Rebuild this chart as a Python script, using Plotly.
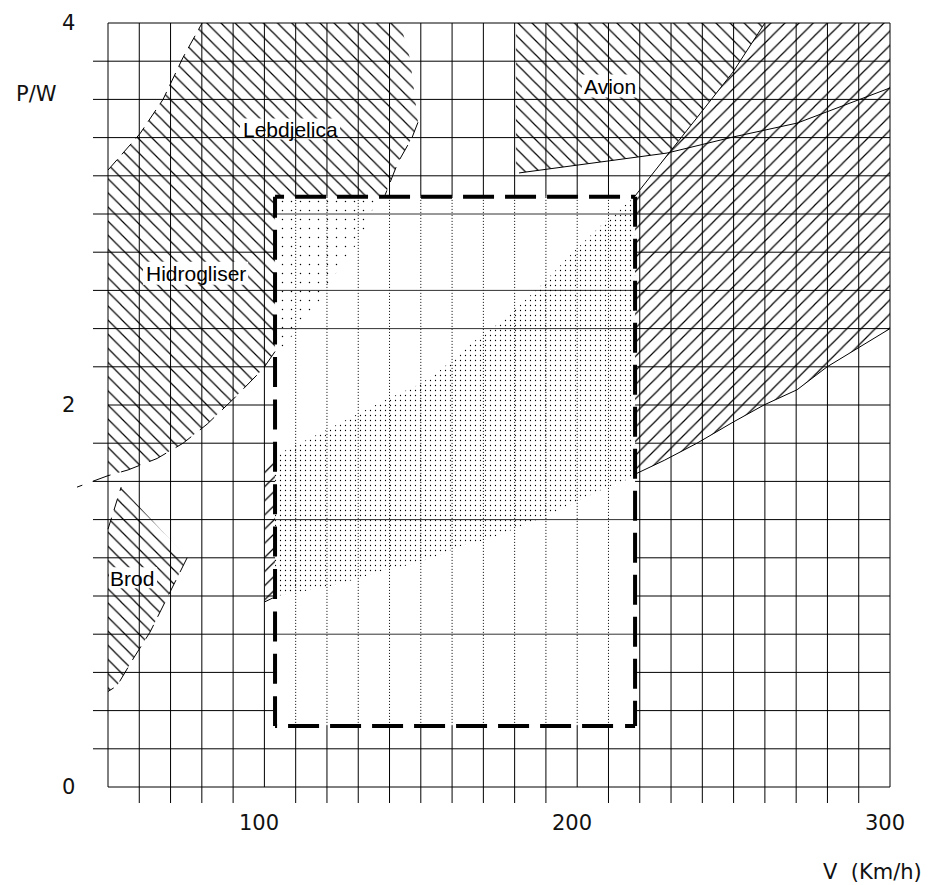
import numpy as np
import plotly.graph_objects as go

# ---------------- axis data ----------------
x_grid = list(range(50, 301, 10))                 # V (km/h) grid
y_grid = [round(v * 0.2, 1) for v in range(0, 21)]  # P/W grid
x_tick_labels = [100, 200, 300]
y_tick_labels = [0, 2, 4]

# ---------------- zones ----------------
# Lebdjelica / Hidrogliser zone
leb_upper_x = [50.0, 60.2, 67.6, 74.0, 80.1]
leb_upper_y = [3.23, 3.42, 3.60, 3.82, 4.00]
leb_right_x = [143.4, 146.6, 148.2, 149.1, 147.2, 142.7, 138.6, 137.0, 133.8, 130.6, 125.1, 120.0, 115.5, 110.4, 105.0, 103.4]
leb_right_y = [4.00, 3.81, 3.60, 3.48, 3.40, 3.27, 3.10, 3.09, 3.00, 2.86, 2.76, 2.60, 2.50, 2.39, 2.29, 2.28]
hid_lower_x = [103.4, 99.6, 90.0, 81.7, 74.0, 65.7, 56.4, 50.0, 40.1]
hid_lower_y = [2.28, 2.19, 2.03, 1.90, 1.80, 1.72, 1.66, 1.63, 1.57]

# Avion zone
avion_left_x = [180.4, 180.4, 181.4]
avion_left_y = [4.00, 3.215, 3.215]
avion_lower_x = [181.4, 228.7, 249.8, 270.3, 300.0]
avion_lower_y = [3.215, 3.319, 3.403, 3.476, 3.660]

# fast zone (right hatched band + dense stipple in the box)
jet_upper_x = [100.2, 104.0, 109.1, 120.0, 130.6, 139.2, 149.7, 156.1, 166.7, 177.6, 188.1, 198.7, 209.5, 217.8]
jet_upper_y = [1.71, 1.74, 1.78, 1.87, 1.96, 2.03, 2.11, 2.18, 2.33, 2.46, 2.62, 2.80, 2.97, 3.08]
jet_edge_x = [217.8, 230.0, 238.3, 249.8, 260.0]
jet_edge_y = [3.08, 3.335, 3.508, 3.743, 4.00]
jet_lower_x = [100.2, 104.0, 110.4, 117.8, 123.2, 129.6, 139.2, 145.6, 153.9, 162.5, 172.1, 182.7, 190.4,
               196.7, 203.1, 209.5, 217.8, 218.8, 227.8, 238.3, 249.8, 259.7, 270.3, 279.9, 289.8, 300.0]
jet_lower_y = [0.97, 1.00, 1.02, 1.04, 1.06, 1.09, 1.14, 1.16, 1.20, 1.26, 1.30, 1.37, 1.42,
               1.47, 1.52, 1.57, 1.62, 1.64, 1.71, 1.80, 1.91, 2.00, 2.08, 2.20, 2.30, 2.40]

# Brod zone
brod_x = [50.0, 54.2, 75.3, 69.2, 63.4, 58.0, 52.9, 50.0]
brod_y = [1.35, 1.57, 1.20, 1.00, 0.81, 0.67, 0.53, 0.50]

# dashed design box
box_x = [103.4, 218.5]
box_y = [0.32, 3.09]
inner_h_lines = [3.0, 2.6, 2.4, 1.4, 0.8]

# ---------------- layout geometry ----------------
PAGE_OFF = 8                      # default body margin of the page
W, H = 934 - PAGE_OFF, 885 - PAGE_OFF
PXX = 782 / 250.0   # px per km/h
PXY = 764 / 4.0     # px per P/W unit
X0PX, Y0PX = 108 - PAGE_OFF, 787 - PAGE_OFF   # position of (50, 0)
xr = [50 - X0PX / PXX, 50 + (W - X0PX) / PXX]
yr = [(Y0PX - H) / PXY, Y0PX / PXY]

fig = go.Figure()


def clip_rect(xs, ys, x0, x1, y0, y1):
    pts = list(zip(xs, ys))

    def clip(pts, inside, inter):
        out = []
        for i in range(len(pts)):
            cur, prev = pts[i], pts[i - 1]
            if inside(cur):
                if not inside(prev):
                    out.append(inter(prev, cur))
                out.append(cur)
            elif inside(prev):
                out.append(inter(prev, cur))
        return out

    def ix(xc):
        return lambda p, q: (xc, p[1] + (q[1] - p[1]) * (xc - p[0]) / (q[0] - p[0]))

    def iy(yc):
        return lambda p, q: (p[0] + (q[0] - p[0]) * (yc - p[1]) / (q[1] - p[1]), yc)

    pts = clip(pts, lambda p: p[0] >= x0, ix(x0))
    pts = clip(pts, lambda p: p[0] <= x1, ix(x1))
    pts = clip(pts, lambda p: p[1] >= y0, iy(y0))
    pts = clip(pts, lambda p: p[1] <= y1, iy(y1))
    return [p[0] for p in pts], [p[1] for p in pts]


def area(xs, ys, shape, size=10, solidity=0.12, bg="rgba(0,0,0,0)", solid=None):
    xs = list(xs) + [xs[0]]
    ys = list(ys) + [ys[0]]
    kw = dict(x=xs, y=ys, mode="lines", line=dict(width=0), fill="toself", hoverinfo="skip")
    if solid is not None:
        kw["fillcolor"] = solid
    else:
        kw["fillcolor"] = "rgba(0,0,0,0)"
        kw["fillpattern"] = dict(shape=shape, fgcolor="black", bgcolor=bg, size=size,
                                 solidity=solidity, fillmode="replace")
    fig.add_trace(go.Scatter(**kw))


def line(xs, ys, width=1, dash="solid", color="black"):
    fig.add_trace(go.Scatter(x=xs, y=ys, mode="lines", hoverinfo="skip",
                             line=dict(width=width, dash=dash, color=color)))


# polygons
leb_poly_x = leb_upper_x + leb_right_x + hid_lower_x[1:-1]
leb_poly_y = leb_upper_y + leb_right_y + hid_lower_y[1:-1]
avion_poly_x = avion_left_x + avion_lower_x + [300.0]
avion_poly_y = avion_left_y + avion_lower_y + [4.0]
jet_poly_x = jet_upper_x + jet_edge_x[1:] + [300.0] + jet_lower_x[::-1]
jet_poly_y = jet_upper_y + jet_edge_y[1:] + [4.0] + jet_lower_y[::-1]

# hatching
area(avion_poly_x, avion_poly_y, "\\")
area(jet_poly_x, jet_poly_y, "/", bg="white")
area(leb_poly_x, leb_poly_y, "\\")
area(brod_x, brod_y, "\\")

# label backgrounds (remove hatch under text)
labels = [
    ("Lebdjelica", 108.2, 3.445, (92.2, 124.2, 3.39, 3.50)),
    ("Hidrogliser", 78.1, 2.69, (61.2, 94.8, 2.63, 2.75)),
    ("Avion", 210.5, 3.665, (201.5, 219.8, 3.61, 3.73)),
    ("Brod", 57.7, 1.094, (50.3, 65.7, 1.04, 1.15)),
]
for _, _, _, (a, b, c, d) in labels:
    area([a, b, b, a], [c, c, d, d], None, solid="white")

# grid + ticks
gx, gy = [], []
for xv in x_grid:
    gx += [xv, xv, None]
    gy += [y_grid[0], y_grid[-1], None]
for yv in y_grid:
    gx += [x_grid[0], x_grid[-1], None]
    gy += [yv, yv, None]
tick_dx = 15 / PXX
tick_dy = 16 / PXY
for xv in x_grid[1:]:
    if xv not in x_tick_labels:
        gx += [xv, xv, None]
        gy += [0, -tick_dy, None]
for yv in y_grid[1:-1]:
    if yv not in y_tick_labels:
        gx += [x_grid[0] - tick_dx, x_grid[0], None]
        gy += [yv, yv, None]
line(gx, gy, width=1)

# box interior
bx0, bx1 = box_x
by0, by1 = box_y
area([bx0, bx1, bx1, bx0], [by0, by0, by1, by1], None, solid="white")

# inner grid
ix_, iy_ = [], []
for xv in x_grid:
    if bx0 < xv < bx1:
        ix_ += [xv, xv, None]
        iy_ += [by0, by1, None]
line(ix_, iy_, width=1, dash="1px,2px")
hx, hy = [], []
for yv in inner_h_lines:
    hx += [bx0, bx1, None]
    hy += [yv, yv, None]
line(hx, hy, width=1, color="#333")

# stipple inside the box
sx, sy = clip_rect(leb_poly_x, leb_poly_y, bx0, bx1, by0, by1)
area(sx, sy, ".", size=9, solidity=0.02)
sx, sy = clip_rect(jet_poly_x, jet_poly_y, bx0, bx1, by0, by1)
area(sx, sy, ".", size=5, solidity=0.05)

# zone boundaries
line(leb_upper_x, leb_upper_y, dash="14px,7px")
line(leb_right_x[3:7], leb_right_y[3:7], dash="16px,9px")
line(hid_lower_x, hid_lower_y, dash="19px,11px")
line(brod_x[:2], brod_y[:2], dash="12px,8px")
line(brod_x[2:], brod_y[2:], dash="16px,9px")
line(avion_lower_x, avion_lower_y)
line(jet_edge_x, jet_edge_y)
jl_x = [v for v in jet_lower_x if v >= bx1]
jl_y = [jet_lower_y[i] for i, v in enumerate(jet_lower_x) if v >= bx1]
line(jl_x, jl_y)
line(jet_lower_x[:2], jet_lower_y[:2])

# thick dashed box
top_dash = "9px,11px," + ",".join(["31px,11px"] * 9)
right_dash = ",".join(["30px,12px"] * 14)
bottom_dash = "10px,12px," + ",".join(["31px,11px"] * 9)
left_dash = "21px,12px," + ",".join(["30px,12.4px"] * 14)
line([bx0, bx1], [by1, by1], width=4, dash=top_dash)
line([bx1, bx1], [by1, by0], width=4, dash=right_dash)
line([bx1, bx0], [by0, by0], width=4, dash=bottom_dash)
line([bx0, bx0], [by1, by0], width=4, dash=left_dash)

# text
ann = []
tick_font = dict(family="DejaVu Sans", size=21, color="#111")
for v in x_tick_labels:
    ann.append(dict(x=v - 1.7, y=-0.191, text=str(v), font=tick_font))
for v in y_tick_labels:
    ann.append(dict(x=37.5, y=v, text=str(v), font=tick_font))
ann.append(dict(x=27.3, y=3.63, text="P/W", font=tick_font))
ann.append(dict(x=294.5, y=-0.445, text="V\u00a0\u00a0(Km/h)", font=tick_font))
lab_font = dict(family="Liberation Sans, Arial", size=21, color="black")
for t, x, y, _ in labels:
    ann.append(dict(x=x, y=y, text=t, font=lab_font))
for a in ann:
    a.update(xref="x", yref="y", showarrow=False, xanchor="center", yanchor="middle")

fig.update_layout(
    width=W, height=H,
    margin=dict(l=0, r=0, t=0, b=0, pad=0),
    plot_bgcolor="white", paper_bgcolor="white",
    showlegend=False,
    xaxis=dict(range=xr, visible=False, fixedrange=True),
    yaxis=dict(range=yr, visible=False, fixedrange=True),
    annotations=ann,
)

fig.write_html("out.html")
